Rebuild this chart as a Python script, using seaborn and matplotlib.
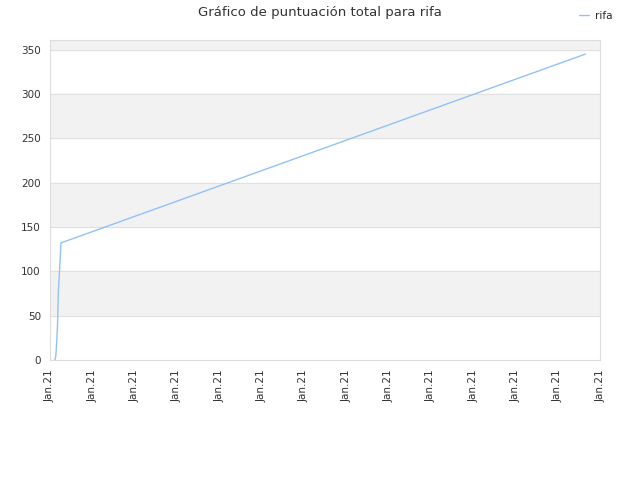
import matplotlib
matplotlib.use("Agg")
import matplotlib.pyplot as plt
import seaborn as sns
import pandas as pd

x_pos = [0.12, 0.14, 0.16, 0.18, 0.2, 0.22, 0.24, 0.26, 12.65]
scores = [0, 5, 20, 40, 78, 95, 112, 132, 345]
tick_labels = ["Jan.21"] * 14

df = pd.DataFrame({"x": x_pos, "y": scores})

sns.set_style("white")
plt.rcParams['font.family'] = ['DejaVu Sans']
fig = plt.figure(figsize=(6.4, 4.8), dpi=100)
ax = fig.add_axes([0.078, 0.25, 0.86, 0.667])

ymax = 361
for lo in range(0, 400, 50):
    if (lo // 50) % 2 == 1:
        ax.axhspan(lo, min(lo + 50, ymax), color="#f2f2f2", zorder=0)
for v in range(50, 351, 50):
    ax.axhline(v, color="#e0e0e0", lw=0.8, zorder=1)

sns.lineplot(data=df, x="x", y="y", ax=ax, color="#90c3f5", lw=1, label="rifa", zorder=3)

ax.set_xlim(0, 13)
ax.set_ylim(0, ymax)
ax.set_xticks(range(14))
ax.set_xticklabels(tick_labels, rotation=90, fontsize=7.5, color="#333333")
ax.set_yticks(range(0, 351, 50))
ax.tick_params(axis="y", labelsize=7.5, colors="#333333")
ax.tick_params(axis="both", length=3, color="#cccccc")
ax.set_xlabel("")
ax.set_ylabel("")
for s in ax.spines.values():
    s.set_color("#dddddd")
    s.set_linewidth(0.8)

ax.legend(loc="upper right", bbox_to_anchor=(1.04, 1.12), frameon=False, fontsize=7.5,
          handlelength=1.0, handletextpad=0.6)
fig.suptitle("Gráfico de puntuación total para rifa", y=0.987, fontsize=9.5, color="#333333")
fig.savefig("out.png", dpi=100)
